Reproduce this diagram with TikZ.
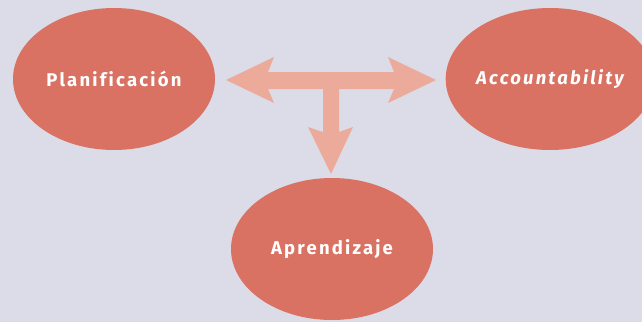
\documentclass[tikz,border=0pt]{standalone}
\usepackage{fontspec}
\setmainfont{Fira Sans}[Ligatures=NoCommon]
\usetikzlibrary{shapes.geometric}
\definecolor{bgcol}{HTML}{DCDCE8}
\definecolor{ovalcol}{HTML}{D97262}
\definecolor{arrowcol}{HTML}{EBAA9A}
\tikzset{
  oval/.style={ellipse, fill=ovalcol, draw=none, minimum width=202pt,
    minimum height=142pt, inner sep=0pt, text=white,
    font=\fontsize{18.5}{20}\selectfont\bfseries\addfontfeatures{LetterSpace=12}},
  blockarrow/.style={fill=arrowcol, draw=none}
}
\begin{document}
\begin{tikzpicture}[x=1pt,y=-1pt]
  \useasboundingbox (0,0) rectangle (642,322);
  \clip (0,0) rectangle (642,322);
  \fill[bgcol] (0,0) rectangle (642,322);

  % the three topics
  \node[oval] (plan) at (114,79) {Planificación};
  \node[oval] (acc) at (550,79) {\itshape Accountability};
  \node[oval] (apr) at (332,249) {Aprendizaje};

  % T-shaped block arrow linking them
  \coordinate (ltip) at (226,80);
  \coordinate (rtip) at (436,80);
  \coordinate (dtip) at (331,174);
  \fill[blockarrow] (ltip) -- (274,57) -- (268,72) -- (394,72) -- (388,57)
    -- (rtip) -- (388,103) -- (394,89) -- (339,89) -- (339,132)
    -- (353,127) -- (dtip) -- (308,127) -- (323,132) -- (323,89)
    -- (268,89) -- (274,103) -- cycle;
\end{tikzpicture}
\end{document}
